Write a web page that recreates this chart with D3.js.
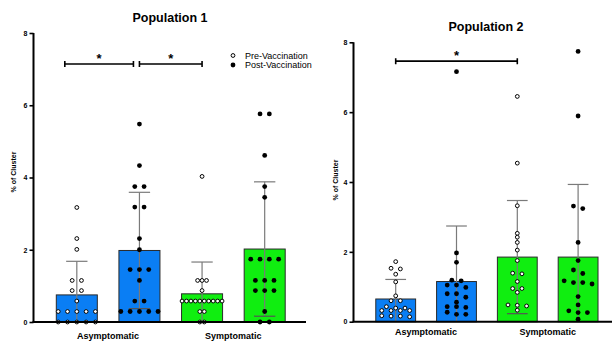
<!DOCTYPE html>
<html><head><meta charset="utf-8">
<script src="https://cdn.jsdelivr.net/npm/d3@7"></script>
<style>body{margin:0;background:#fff} text{font-family:"Liberation Sans",Arial,Helvetica,sans-serif;fill:#000}</style>
</head><body><svg id="c" width="612" height="341"></svg>
<script>
// ---------- data ----------
const groups = ["Asymptomatic", "Symptomatic"];
const phases = ["Pre-Vaccination", "Post-Vaccination"];
const titles = ["Population 1", "Population 2"];
const yTicks = [0, 2, 4, 6, 8];
const yLabel = "% of Cluster";

const p1Means = [0.75, 1.98, 0.78, 2.02];
const p1SD    = [0.93, 1.61, 0.88, 1.86];
const p1AsymPre  = [3.17, 2.31, 2.01, 1.15, 1.15, 0.87, 0.87, 0.58, 0.29, 0.29, 0.29, 0.29, 0.29, 0, 0, 0, 0, 0];
const p1AsymPost = [5.48, 4.33, 3.75, 3.75, 3.18, 3.18, 2.31, 2.0, 1.45, 1.45, 1.45, 1.15, 0.58, 0.58, 0.29, 0.29, 0.29, 0.29, 0.29];
const p1SymPre   = [4.03, 1.15, 1.15, 1.15, 0.87, 0.58, 0.58, 0.58, 0.58, 0.58, 0.58, 0.58, 0.58, 0.58, 0.58, 0.29, 0.29, 0, 0];
const p1SymPost  = [5.76, 5.76, 4.61, 3.75, 3.45, 1.74, 1.74, 1.74, 1.74, 1.15, 1.15, 1.15, 0.87, 0.87, 0.87, 0.29, 0, 0];
const p1Sig = [[0, 1], [1, 2]];

const p2Means = [0.65, 1.15, 1.85, 1.85];
const p2SD    = [0.56, 1.59, 1.62, 2.08];
const p2AsymPre  = [1.72, 1.53, 1.51, 1.36, 1.14, 0.74, 0.60, 0.60, 0.43, 0.39, 0.39, 0.32, 0.32, 0.32, 0.32, 0.17, 0.16, 0.16, 0.14];
const p2AsymPost = [7.16, 1.97, 1.70, 1.19, 1.17, 1.05, 1.05, 0.98, 0.80, 0.80, 0.70, 0.56, 0.43, 0.43, 0.41, 0.27, 0.21, 0.21];
const p2SymPre   = [6.45, 4.54, 3.32, 2.53, 2.42, 2.27, 2.05, 1.75, 1.39, 1.37, 1.15, 0.95, 0.95, 0.84, 0.48, 0.47, 0.45, 0.33];
const p2SymPost  = [7.74, 5.89, 3.31, 3.24, 2.27, 1.75, 1.48, 1.38, 1.17, 1.12, 1.12, 1.08, 0.72, 0.48, 0.31, 0.26, 0.26, 0.07];
const p2Sig = [[0, 2]];

// ---------- layout ----------
const svg = d3.select("#c");
const barColors = ["#0a7ef4", "#0a7ef4", "#10ee10", "#10ee10"];
const panels = [
  { title: titles[0], means: p1Means, sd: p1SD, pts: [p1AsymPre, p1AsymPost, p1SymPre, p1SymPost], sig: p1Sig,
    sigY: 7.14, y0: 322, y1: 33, axX: 33.5, axEnd: 306, band: [45.5, 296], titleX: 170, titleY: 22,
    labX: 16, labY: 172, xLabY: 339, legend: true },
  { title: titles[1], means: p2Means, sd: p2SD, pts: [p2AsymPre, p2AsymPost, p2SymPre, p2SymPost], sig: p2Sig,
    sigY: 7.46, y0: 321.7, y1: 42.3, axX: 353.5, axEnd: 612, band: [365.3, 608.5], titleX: 486, titleY: 31,
    labX: 338, labY: 180, xLabY: 334.5, legend: false }
];

const cols = [];
groups.forEach(g => phases.forEach(p => cols.push(g + "|" + p)));

panels.forEach(P => {
  const y = d3.scaleLinear().domain([0, 8]).range([P.y0, P.y1]);
  const x = d3.scaleBand().domain(cols).range(P.band).paddingInner(0.345).paddingOuter(0.1725);
  const bw = x.bandwidth();
  const g = svg.append("g");

  // bars
  g.selectAll("rect.bar").data(P.means).join("rect")
    .attr("x", (d, i) => x(cols[i]))
    .attr("y", d => y(d))
    .attr("width", bw)
    .attr("height", d => y(0) - y(d))
    .attr("fill", (d, i) => barColors[i])
    .attr("stroke", "#2a2a2a").attr("stroke-width", 1);

  // error bars (mean + SD; lower arm only where it stays clearly above zero)
  P.means.forEach((m, i) => {
    const cx = x(cols[i]) + bw / 2;
    const hi = m + P.sd[i], lo = m - P.sd[i];
    const cw = bw * 0.26;
    const showLo = lo > 0.15;
    g.append("line").attr("x1", cx).attr("x2", cx).attr("y1", y(hi)).attr("y2", y(showLo ? lo : 0))
      .attr("stroke", "#7a7a7a").attr("stroke-width", 1.2);
    g.append("line").attr("x1", cx - cw).attr("x2", cx + cw).attr("y1", y(hi)).attr("y2", y(hi))
      .attr("stroke", "#7a7a7a").attr("stroke-width", 1.2);
    if (showLo) g.append("line").attr("x1", cx - cw).attr("x2", cx + cw).attr("y1", y(lo)).attr("y2", y(lo))
      .attr("stroke", "#555").attr("stroke-width", 1.2);
  });

  // points arranged in centred rows
  P.pts.forEach((vals, i) => {
    const cx = x(cols[i]) + bw / 2;
    const sorted = vals.slice().sort((a, b) => b - a);
    const rows = [];
    sorted.forEach(v => {
      const last = rows[rows.length - 1];
      if (last && Math.abs(y(last[0]) - y(v)) <= 3.5) last.push(v); else rows.push([v]);
    });
    const maxN = d3.max(rows, r => r.length);
    const sp = maxN > 1 ? Math.min(9.3, 40 / (maxN - 1)) : 9.3;
    const filled = i % 2 === 1;
    rows.forEach(r => r.forEach((v, k) => {
      g.append("circle").attr("cx", cx + (k - (r.length - 1) / 2) * sp).attr("cy", y(v))
        .attr("r", filled ? 2.4 : 1.9)
        .attr("fill", filled ? "#000" : "#fff").attr("stroke", "#000").attr("stroke-width", filled ? 0 : 1);
    }));
  });

  // axes
  const ya = d3.axisLeft(y).tickValues(yTicks).tickSize(4).tickPadding(2).tickFormat(d3.format("d"));
  const ag = g.append("g").attr("transform", `translate(${P.axX},0)`).call(ya);
  ag.select(".domain").attr("stroke", "#000").attr("stroke-width", 2).attr("d", `M0,${P.y0}V${P.y1}`);
  ag.selectAll(".tick line").attr("stroke", "#000").attr("stroke-width", 1.6);
  ag.selectAll(".tick text").attr("font-size", 7).attr("font-weight", "bold")
    .attr("font-family", '"Liberation Sans",Arial,sans-serif');
  g.append("line").attr("x1", P.axX - 1).attr("x2", P.axEnd).attr("y1", P.y0).attr("y2", P.y0)
    .attr("stroke", "#000").attr("stroke-width", 2);

  // group labels
  groups.forEach((gr, j) => {
    const c = (x(cols[2 * j]) + x(cols[2 * j + 1]) + bw) / 2;
    g.append("text").attr("x", c).attr("y", P.xLabY).attr("text-anchor", "middle")
      .attr("font-size", 9).attr("font-weight", "bold").text(gr);
  });

  // y label
  g.append("text").attr("transform", `translate(${P.labX},${P.labY}) rotate(-90)`)
    .attr("text-anchor", "middle").attr("font-size", 7).attr("font-weight", "bold").text(yLabel);

  // title
  g.append("text").attr("x", P.titleX).attr("y", P.titleY).attr("text-anchor", "middle")
    .attr("font-size", 12.5).attr("font-weight", "bold").text(P.title);

  // significance brackets
  P.sig.forEach(([a, b], k) => {
    const xa = x(cols[a]) + bw / 2 + (k === 0 && P.sig.length > 1 ? -12 : 0);
    const xb = x(cols[b]) + bw / 2 + (k === 0 && P.sig.length > 1 ? -6 : 0);
    const yy = y(P.sigY);
    g.append("path").attr("d", `M${xa},${yy - 3}V${yy + 3}M${xa},${yy}H${xb}M${xb},${yy - 3}V${yy + 3}`)
      .attr("stroke", "#000").attr("stroke-width", 1.6).attr("fill", "none");
    g.append("text").attr("x", (xa + xb) / 2).attr("y", yy - 1).attr("text-anchor", "middle")
      .attr("font-size", 13).attr("font-weight", "bold").text("*");
  });

  // legend
  if (P.legend) {
    phases.forEach((ph, k) => {
      const ly = 55.5 + k * 9.5;
      g.append("circle").attr("cx", 233).attr("cy", ly).attr("r", k ? 2.4 : 1.9)
        .attr("fill", k ? "#000" : "#fff").attr("stroke", "#000").attr("stroke-width", k ? 0 : 1);
      g.append("text").attr("x", 245).attr("y", ly + 3.3).attr("font-size", 9).text(ph);
    });
  }
});
</script></body></html>
